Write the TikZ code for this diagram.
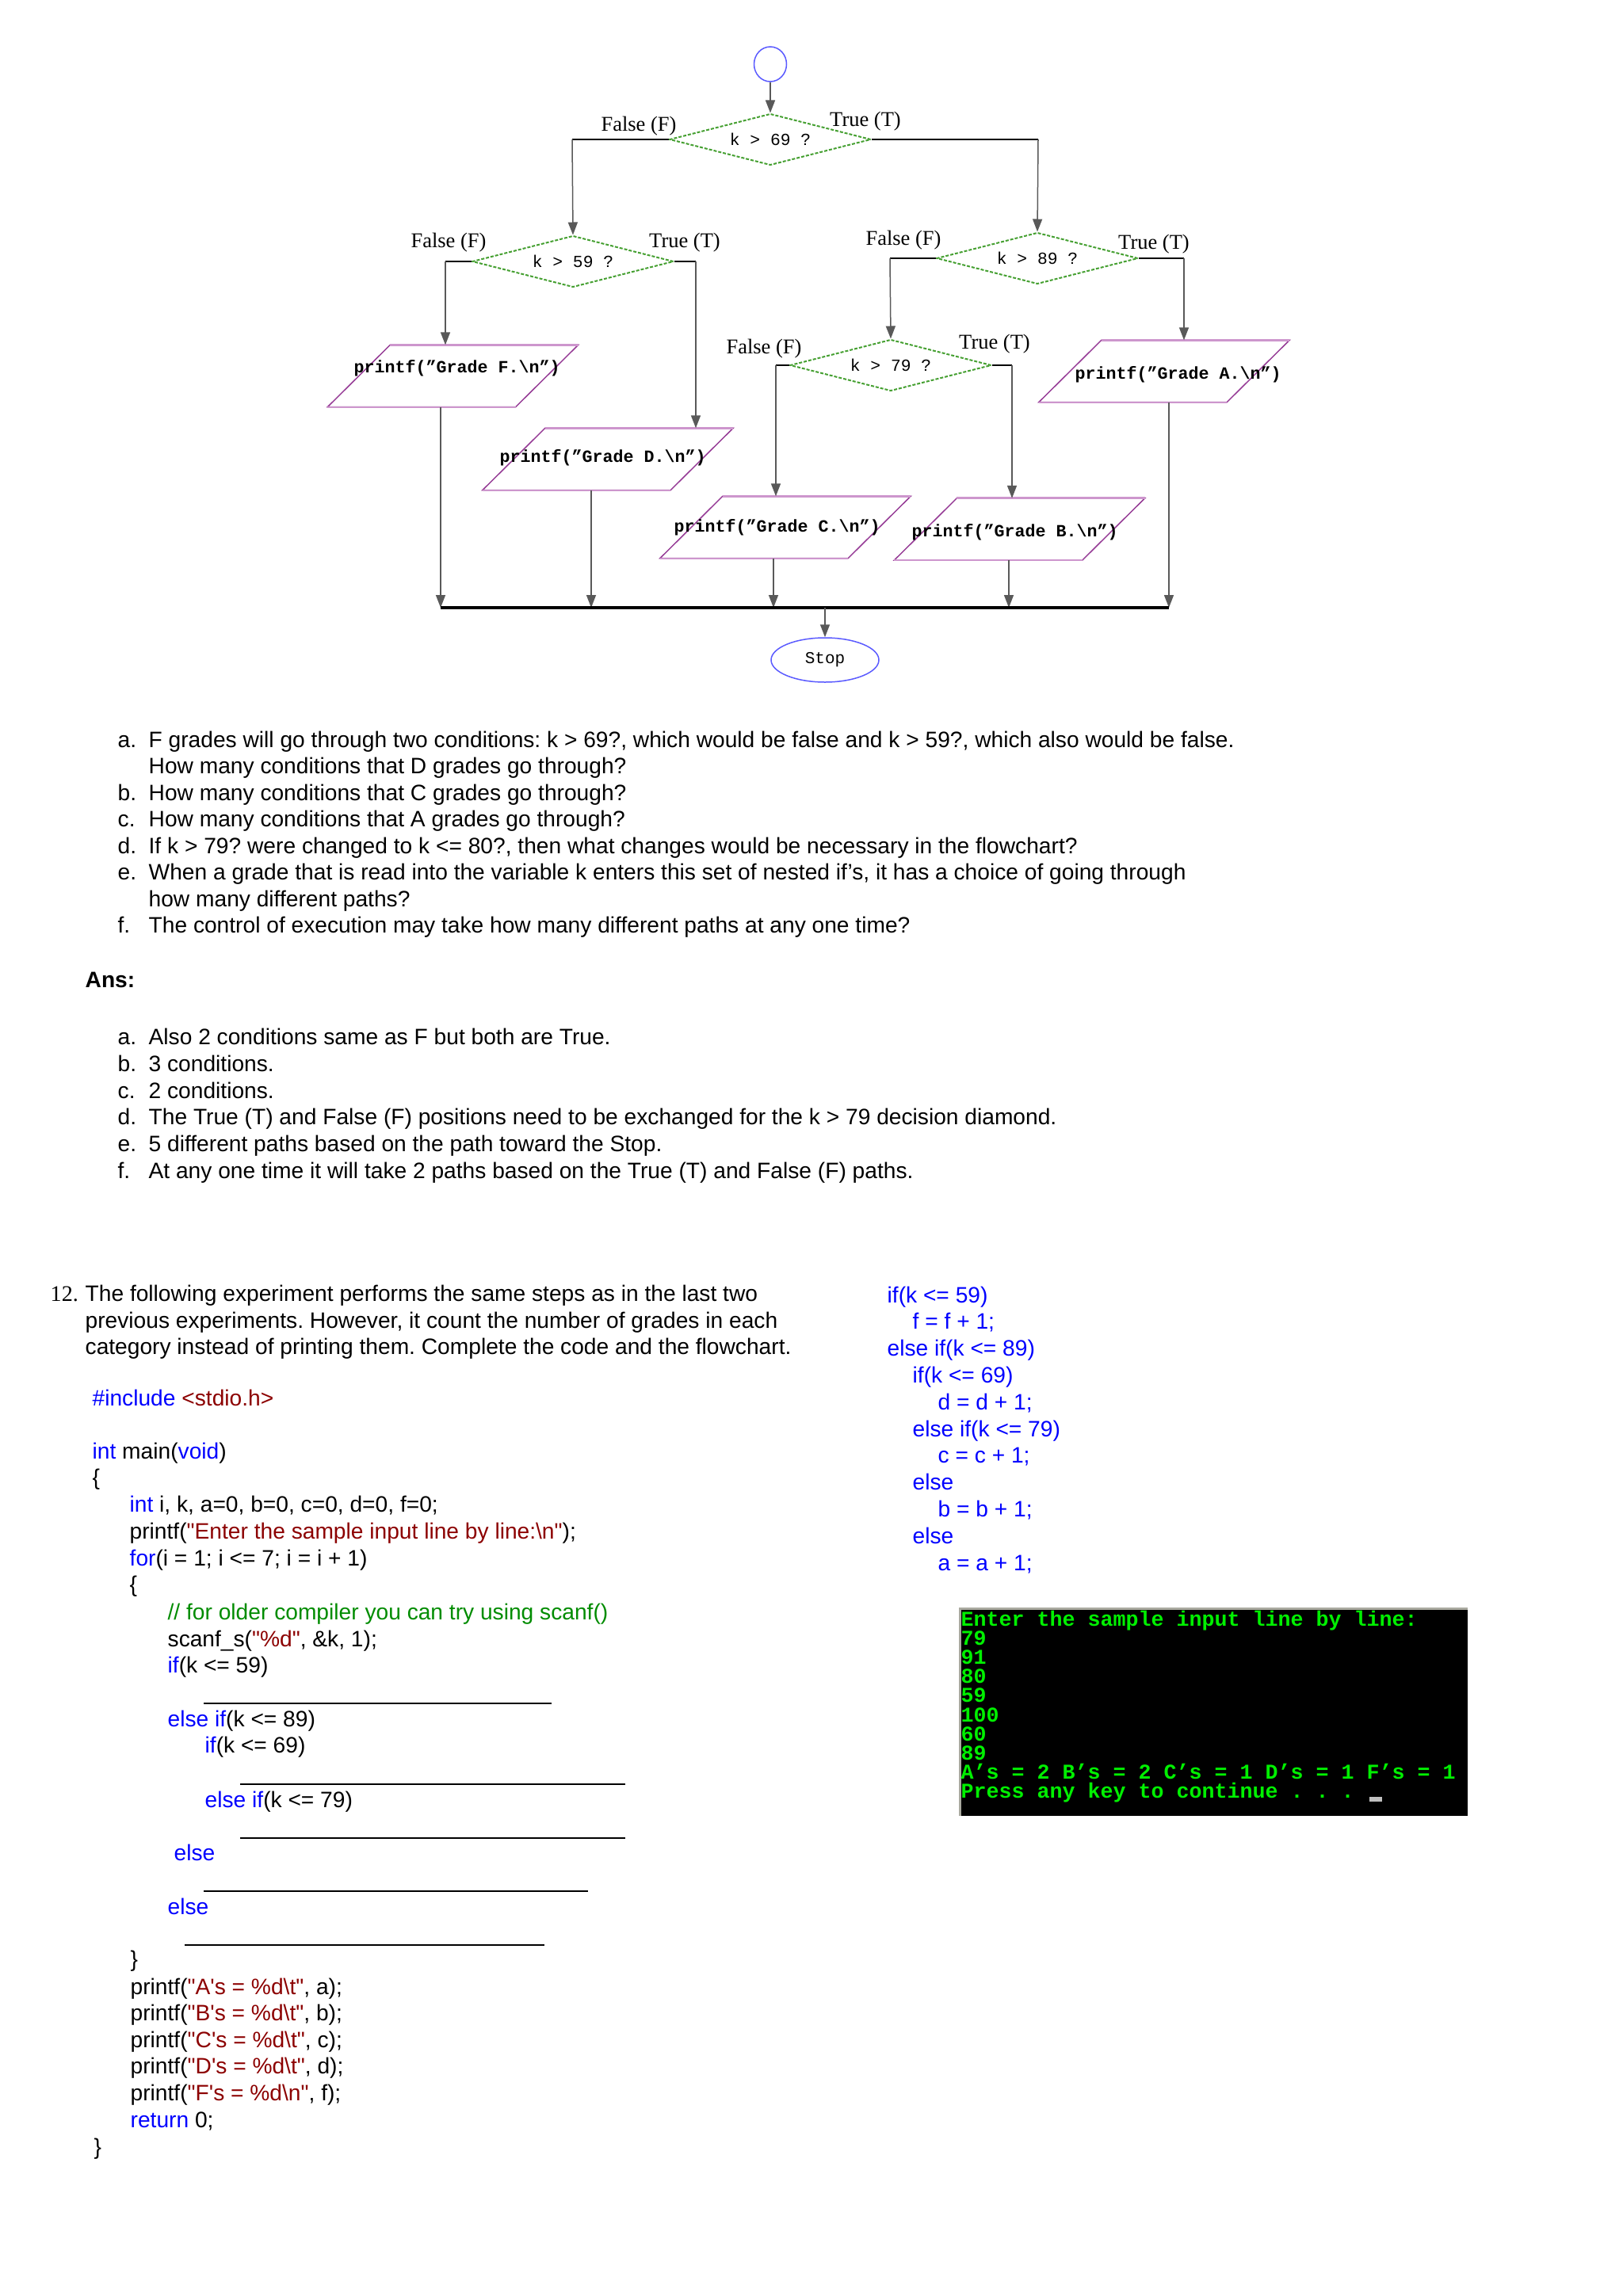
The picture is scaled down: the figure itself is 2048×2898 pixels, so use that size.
\documentclass[tikz,border=0pt]{standalone}
\usepackage{fontspec}
\setmainfont{Liberation Sans}
\newfontfamily\serifA{Liberation Serif}
\newfontfamily\monoA{Liberation Mono}
\newfontfamily\codeA{Liberation Sans}
\usetikzlibrary{shapes.geometric,arrows.meta}
\definecolor{kw}{RGB}{0,0,255}
\definecolor{str}{RGB}{140,0,0}
\definecolor{cmt}{RGB}{0,140,0}
\definecolor{dgreen}{RGB}{70,160,50}
\definecolor{ppl}{RGB}{150,60,150}
\definecolor{pplL}{RGB}{205,150,205}
\definecolor{eblue}{RGB}{90,90,255}
\definecolor{cgreen}{RGB}{0,240,0}
\definecolor{cgrey}{RGB}{170,170,160}
\newcommand\drawpara[1]{%
  \draw[ppl,line width=0.45pt] ([xshift=23.7pt]#1.north west) -- (#1.north east)
     -- ([xshift=-23.7pt]#1.south east) -- (#1.south west) -- cycle;
  \draw[pplL,line width=0.9pt] ([xshift=23.7pt]#1.north west) -- (#1.north east);
  \draw[pplL,line width=0.6pt] ([xshift=-23.7pt]#1.south east) -- (#1.south west);}
\frenchspacing
\begin{document}
\begin{tikzpicture}[x=0.3pt,y=-0.3pt,
  txt/.style={inner sep=0pt,anchor=base west,font=\fontsize{8.45}{10}\selectfont},
  code/.style={inner sep=0pt,anchor=base west,font=\codeA\fontsize{8.45}{10}\selectfont},
  rcode/.style={code,text=kw},
  cons/.style={inner sep=0pt,anchor=base west,text=cgreen,font=\monoA\bfseries\fontsize{8}{9}\selectfont},
  dec/.style={diamond,draw=dgreen,dash pattern=on 1.2pt off 0.6pt,line width=0.6pt,
    minimum width=76.2pt,minimum height=19.5pt,inner sep=0pt,aspect=3.9,
    font=\monoA\fontsize{6.4}{7}\selectfont},
  io/.style={rectangle,draw=none,minimum width=94.5pt,minimum height=23.1pt,inner sep=0pt},
  ptxt/.style={inner sep=0pt,anchor=mid west,font=\monoA\bfseries\fontsize{6.5}{7}\selectfont},
  lab/.style={inner sep=0pt,anchor=mid,font=\serifA\fontsize{7.95}{9}\selectfont},
  startE/.style={ellipse,draw=eblue,line width=0.45pt,minimum width=12.3pt,minimum height=13.2pt,inner sep=0pt},
  stopE/.style={ellipse,draw=eblue,line width=0.45pt,minimum width=40.8pt,minimum height=16.8pt,inner sep=0pt,
    font=\monoA\fontsize{6.3}{7}\selectfont},
  arr/.style={draw=black!65,line width=0.45pt,-{Triangle[length=4.8pt,width=3.6pt]}},
  stub/.style={draw=black,line width=0.75pt},
  blank/.style={draw=black,line width=0.6pt}]
\useasboundingbox[fill=white] (0,0) rectangle (2048,2898);

% ---------------- flowchart ----------------
\node[startE] (st) at (972,81) {};
\node[dec] (d1) at (972,176) {k > 69 ?};
\node[dec] (d2) at (723,330) {k > 59 ?};
\node[dec] (d3) at (1309,326) {k > 89 ?};
\node[dec] (d4) at (1124,461) {k > 79 ?};
\node[io] (pF) at (571.5,474.5) {};
\node[io] (pD) at (767,579.5) {};
\node[io] (pC) at (991,665.5) {};
\node[io] (pB) at (1286.5,668) {};
\node[io] (pA) at (1469,468.5) {};
\node[stopE] (sp) at (1041,833) {Stop};

\drawpara{pF}
\drawpara{pD}
\drawpara{pC}
\drawpara{pB}
\drawpara{pA}

\node[ptxt] (tF) at (446,462) {printf(”Grade F.\textbackslash n”)};
\node[ptxt] (tD) at (630,575) {printf(”Grade D.\textbackslash n”)};
\node[ptxt] (tC) at (850,663) {printf(”Grade C.\textbackslash n”)};
\node[ptxt] (tB) at (1150,669) {printf(”Grade B.\textbackslash n”)};
\node[ptxt] (tA) at (1356,470) {printf(”Grade A.\textbackslash n”)};

\node[lab] (l1f) at (806,157) {False (F)};
\node[lab] (l1t) at (1092,151) {True (T)};
\node[lab] (l2f) at (566,304) {False (F)};
\node[lab] (l2t) at (864,304) {True (T)};
\node[lab] (l3f) at (1140,301) {False (F)};
\node[lab] (l3t) at (1456,306) {True (T)};
\node[lab] (l4f) at (964,438) {False (F)};
\node[lab] (l4t) at (1255,432) {True (T)};

\draw[arr] (st) -- (d1);
\draw[stub] (d1.west) -- ++(-122,0) coordinate (b1l);
\draw[arr] (b1l) -- (d2.north);
\draw[stub] (d1.east) -- ++(210,0) coordinate (b1r);
\draw[arr] (b1r) -- (d3.north);
\draw[stub] (d2.west) -- ++(-33,0) coordinate (b2l);
\draw[arr] (b2l) -- (b2l |- pF.north);
\draw[stub] (d2.east) -- ++(27,0) coordinate (b2r);
\draw[arr] (b2r) -- (b2r |- pD.north);
\draw[stub] (d3.west) -- ++(-58,0) coordinate (b3l);
\draw[arr] (b3l) -- (d4.north);
\draw[stub] (d3.east) -- ++(57,0) coordinate (b3r);
\draw[arr] (b3r) -- (b3r |- pA.north);
\draw[stub] (d4.west) -- ++(-17,0) coordinate (b4l);
\draw[arr] (b4l) -- (b4l |- pC.north);
\draw[stub] (d4.east) -- ++(25,0) coordinate (b4r);
\draw[arr] (b4r) -- (b4r |- pB.north);

\coordinate (jF) at (556,767);
\coordinate (jD) at (746,767);
\coordinate (jC) at (976,767);
\coordinate (jB) at (1273,767);
\coordinate (jA) at (1475,767);
\coordinate (jS) at (1041,767);
\draw[arr] (jF |- pF.south) -- (jF);
\draw[arr] (jD |- pD.south) -- (jD);
\draw[arr] (jC |- pC.south) -- (jC);
\draw[arr] (jB |- pB.south) -- (jB);
\draw[arr] (jA |- pA.south) -- (jA);
\draw[line width=1.2pt] (jF) -- (jA);
\draw[arr] (jS) -- (sp.north);

% ---------------- questions ----------------
\foreach \l/\y in {a./943,b./1010,c./1043.5,d./1077,e./1110.5,f./1177.5}
  \node[txt] at (148,\y) {\l};
\node[txt] at (187,943) {F grades will go through two conditions: k > 69?, which would be false and k > 59?, which also would be false.};
\node[txt] at (187,976.5) {How many conditions that D grades go through?};
\node[txt] at (187,1010) {How many conditions that C grades go through?};
\node[txt] at (187,1043.5) {How many conditions that A grades go through?};
\node[txt] at (187,1077) {If k > 79? were changed to k <= 80?, then what changes would be necessary in the flowchart?};
\node[txt] at (187,1110.5) {When a grade that is read into the variable k enters this set of nested if’s, it has a choice of going through};
\node[txt] at (187,1144) {how many different paths?};
\node[txt] at (187,1177.5) {The control of execution may take how many different paths at any one time?};

\node[txt,font=\bfseries\fontsize{8.45}{10}\selectfont] at (107,1246) {Ans:};

\foreach \l/\y in {a./1318,b./1352,c./1386,d./1419,e./1453,f./1487}
  \node[txt] at (148,\y) {\l};
\node[txt] at (187,1318) {Also 2 conditions same as F but both are True.};
\node[txt] at (187,1352) {3 conditions.};
\node[txt] at (187,1386) {2 conditions.};
\node[txt] at (187,1419) {The True (T) and False (F) positions need to be exchanged for the k > 79 decision diamond.};
\node[txt] at (187,1453) {5 different paths based on the path toward the Stop.};
\node[txt] at (187,1487) {At any one time it will take 2 paths based on the True (T) and False (F) paths.};

% ---------------- question 12 ----------------
\node[txt,font=\serifA\fontsize{8.45}{10}\selectfont] at (63,1642) {12.};
\node[txt] at (107,1642) {The following experiment performs the same steps as in the last two};
\node[txt] at (107,1676) {previous experiments. However, it count the number of grades in each};
\node[txt] at (107,1709) {category instead of printing them. Complete the code and the flowchart.};

\node[code] at (116,1774) {\textcolor{kw}{\#include} \textcolor{str}{<stdio.h>}};
\node[code] at (116,1841) {\textcolor{kw}{int} main(\textcolor{kw}{void})};
\node[code] at (116,1874) {\{};
\node[code] at (163,1908) {\textcolor{kw}{int} i, k, a=0, b=0, c=0, d=0, f=0;};
\node[code] at (163,1942) {printf(\textcolor{str}{"Enter the sample input line by line:\textbackslash n"});};
\node[code] at (163,1976) {\textcolor{kw}{for}(i = 1; i <= 7; i = i + 1)};
\node[code] at (163,2009) {\{};
\node[code] at (211,2044) {\textcolor{cmt}{// for older compiler you can try using scanf()}};
\node[code] at (211,2078) {scanf\_s(\textcolor{str}{"\%d"}, \&k, 1);};
\node[code] at (211,2111) {\textcolor{kw}{if}(k <= 59)};
\coordinate (u1a) at (257,2150); \coordinate (u1b) at (696,2150);
\draw[blank] (u1a) -- (u1b);
\node[code] at (211,2179) {\textcolor{kw}{else if}(k <= 89)};
\node[code] at (258,2212) {\textcolor{kw}{if}(k <= 69)};
\coordinate (u2a) at (303,2252); \coordinate (u2b) at (789,2252);
\draw[blank] (u2a) -- (u2b);
\node[code] at (258,2281) {\textcolor{kw}{else if}(k <= 79)};
\coordinate (u3a) at (303,2320); \coordinate (u3b) at (789,2320);
\draw[blank] (u3a) -- (u3b);
\node[code] at (219,2348) {\textcolor{kw}{else}};
\coordinate (u4a) at (257,2387); \coordinate (u4b) at (742,2387);
\draw[blank] (u4a) -- (u4b);
\node[code] at (211,2416) {\textcolor{kw}{else}};
\coordinate (u5a) at (233,2455); \coordinate (u5b) at (687,2455);
\draw[blank] (u5a) -- (u5b);
\node[code] at (164,2482) {\}};
\node[code] at (164,2517) {printf(\textcolor{str}{"A's = \%d\textbackslash t"}, a);};
\node[code] at (164,2550) {printf(\textcolor{str}{"B's = \%d\textbackslash t"}, b);};
\node[code] at (164,2584) {printf(\textcolor{str}{"C's = \%d\textbackslash t"}, c);};
\node[code] at (164,2617) {printf(\textcolor{str}{"D's = \%d\textbackslash t"}, d);};
\node[code] at (164,2651) {printf(\textcolor{str}{"F's = \%d\textbackslash n"}, f);};
\node[code] at (164,2685) {\textcolor{kw}{return} 0;};
\node[code] at (118,2719) {\}};

% right column
\node[rcode] at (1119,1644) {if(k <= 59)};
\node[rcode] at (1151,1677.8) {f = f + 1;};
\node[rcode] at (1119,1711.6) {else if(k <= 89)};
\node[rcode] at (1151,1745.4) {if(k <= 69)};
\node[rcode] at (1183,1779.2) {d = d + 1;};
\node[rcode] at (1151,1813) {else if(k <= 79)};
\node[rcode] at (1183,1846.8) {c = c + 1;};
\node[rcode] at (1151,1880.6) {else};
\node[rcode] at (1183,1914.4) {b = b + 1;};
\node[rcode] at (1151,1948.2) {else};
\node[rcode] at (1183,1982) {a = a + 1;};

% console
\fill[black] (1211,2030) rectangle (1852,2292);
\draw[cgrey,line width=0.9pt] (1211,2292) -- (1211,2030) -- (1852,2030);
\node[cons] at (1212,2052) {Enter the sample input line by line:};
\node[cons] at (1212,2076.2) {79};
\node[cons] at (1212,2100.4) {91};
\node[cons] at (1212,2124.6) {80};
\node[cons] at (1212,2148.8) {59};
\node[cons] at (1212,2173) {100};
\node[cons] at (1212,2197.2) {60};
\node[cons] at (1212,2221.4) {89};
\node[cons] at (1212,2245.6) {A’s = 2 B’s = 2 C’s = 1 D’s = 1 F’s = 1};
\node[cons] at (1212,2269.8) {Press any key to continue . . .};
\fill[black!25] (1728,2268) rectangle (1744,2274);
\end{tikzpicture}
\end{document}
